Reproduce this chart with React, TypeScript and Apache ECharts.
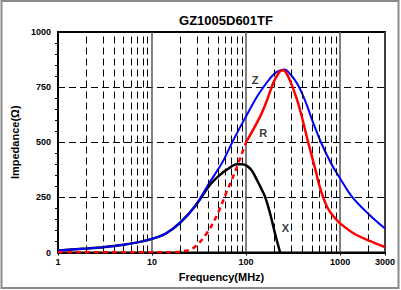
import React, { useEffect, useRef } from "react";
import * as echarts from "echarts";

const titleText = "GZ1005D601TF";
const xName = "Frequency(MHz)";
const yName = "Impedance(Ω)";

// Z (|Z|) curve: frequency (MHz), impedance (Ω)
const zFreq = [1, 2, 3, 5, 7, 10, 14, 20, 29, 41, 56, 73, 100, 130, 150, 180, 210, 255, 300, 350, 400, 450, 500, 625, 800, 1000, 1355, 2000, 3000];
const zVals = [9, 18, 24, 35, 46, 62, 86, 136, 214, 318, 409, 509, 618, 705, 745, 790, 818, 830, 805, 765, 715, 660, 605, 500, 405, 336, 250, 175, 109];

// R curve, dashed part (low frequency)
const rLowFreq = [1, 10, 18, 20, 27, 38, 50, 63, 76, 100];
const rLowVals = [1, 1, 2, 4, 18, 86, 177, 282, 364, 500];
// R curve, solid part
const rHighFreq = [100, 140, 167, 194, 220, 240, 260, 296, 350, 400, 457, 550, 600, 660, 730, 800, 900, 1000, 1400, 2000, 3000];
const rHighVals = [500, 614, 691, 768, 812, 827, 822, 775, 690, 600, 500, 370, 305, 250, 205, 178, 152, 132, 86, 55, 25];

// X curve
const xFreq = [1, 2, 3, 5, 7, 10, 14, 20, 29, 41, 52, 63, 80, 90, 102, 115, 130, 145, 160, 180, 203, 230];
const xVals = [9, 18, 24, 35, 46, 62, 86, 136, 212, 305, 350, 377, 400, 400, 393, 372, 330, 290, 250, 177, 86, 0];

// minor grid frequencies
const minorFreqs = [2, 3, 4, 5, 6, 7, 8, 9, 20, 30, 40, 50, 60, 70, 80, 90, 200, 300, 400, 500, 600, 700, 800, 900, 2000];

// curve name labels: [freq, value, text]
const curveLabels: [number, number, string][] = [
  [125, 782, "Z"],
  [152, 541, "R"],
  [262, 109, "X"],
];

const yTicks = { min: 0, max: 1000, interval: 250 };
const xRange = { min: 1, max: 3000 };

const pairs = (f: number[], v: number[]) => f.map((x, i) => [x, v[i]]);

const FONT = "Liberation Sans, Arial, sans-serif";

export default function App() {
  const ref = useRef<HTMLDivElement>(null);
  useEffect(() => {
    if (!ref.current) return;
    const chart = echarts.init(ref.current, undefined, { renderer: "svg" });
    chart.setOption({
      animation: false,
      backgroundColor: "#ffffff",
      title: {
        text: titleText,
        left: 221,
        textAlign: "center",
        top: 9,
        textStyle: { fontFamily: FONT, fontWeight: "bold", fontSize: 13, color: "#000" },
      },
      graphic: [
        {
          type: "rect",
          shape: { x: 1.5, y: 1, width: 397, height: 287 },
          style: { fill: "none", stroke: "#8a8a8a", lineWidth: 2 },
          silent: true,
          z: 100,
        },
      ],
      grid: {
        left: 58,
        right: 16,
        top: 32,
        bottom: 37.5,
        show: true,
        borderColor: "#000",
        borderWidth: 2,
      },
      xAxis: {
        type: "log",
        logBase: 10,
        min: xRange.min,
        max: xRange.max,
        name: xName,
        nameLocation: "middle",
        nameGap: 17,
        nameTextStyle: { fontFamily: FONT, fontWeight: "bold", fontSize: 11, color: "#000" },
        axisLine: { show: true, lineStyle: { color: "#000", width: 2 } },
        axisTick: { show: true, length: 3, lineStyle: { color: "#000" } },
        axisLabel: {
          fontFamily: FONT,
          fontWeight: "bold",
          fontSize: 9,
          color: "#000",
          margin: 5,
          showMaxLabel: true,
          formatter: (v: number) => String(Math.round(v)),
        },
        splitLine: { show: true, lineStyle: { color: "#555", width: 1.5, type: "solid" } },
      },
      yAxis: {
        type: "value",
        min: yTicks.min,
        max: yTicks.max,
        interval: yTicks.interval,
        name: yName,
        nameLocation: "middle",
        nameGap: 23,
        nameTextStyle: { fontFamily: FONT, fontWeight: "bold", fontSize: 11, color: "#000" },
        axisLine: { show: true, lineStyle: { color: "#000", width: 2 } },
        axisTick: { show: false },
        minorTick: { show: true, splitNumber: 5, length: 3, lineStyle: { color: "#000" } },
        axisLabel: {
          fontFamily: FONT,
          fontWeight: "bold",
          fontSize: 9,
          color: "#000",
          margin: 7,
          formatter: (v: number) => String(v),
        },
        splitLine: { show: true, lineStyle: { color: "#000", width: 1, type: [7, 4] } },
      },
      series: [
        {
          type: "line",
          data: [],
          silent: true,
          markLine: {
            silent: true,
            symbol: "none",
            label: { show: false },
            lineStyle: { color: "#000", width: 1, type: [7, 4] },
            data: minorFreqs.map((f) => ({ xAxis: f })),
          },
        },
        {
          name: "X",
          type: "line",
          data: pairs(xFreq, xVals),
          smooth: 0.35,
          showSymbol: false,
          lineStyle: { color: "#000", width: 2.5 },
          z: 3,
        },
        {
          name: "Z",
          type: "line",
          data: pairs(zFreq, zVals),
          smooth: 0.35,
          showSymbol: false,
          lineStyle: { color: "#0000ff", width: 2 },
          z: 4,
        },
        {
          name: "Rlow",
          type: "line",
          data: pairs(rLowFreq, rLowVals),
          smooth: 0.35,
          showSymbol: false,
          lineStyle: { color: "#ff0000", width: 2.5, type: [5, 4] },
          z: 5,
        },
        {
          name: "Rhigh",
          type: "line",
          data: pairs(rHighFreq, rHighVals),
          smooth: 0.35,
          showSymbol: false,
          lineStyle: { color: "#ff0000", width: 2.5 },
          z: 5,
        },
        {
          type: "scatter",
          data: curveLabels,
          symbolSize: 0,
          silent: true,
          z: 6,
          label: {
            show: true,
            position: "inside",
            fontFamily: FONT,
            fontWeight: "bold",
            fontSize: 11,
            color: "#000",
            formatter: (p: any) => p.data[2],
          },
        },
      ],
    });
    return () => chart.dispose();
  }, []);
  return (
    <div
      ref={ref}
      style={{ position: "absolute", left: 0, top: 0, width: 401, height: 290 }}
    />
  );
}
